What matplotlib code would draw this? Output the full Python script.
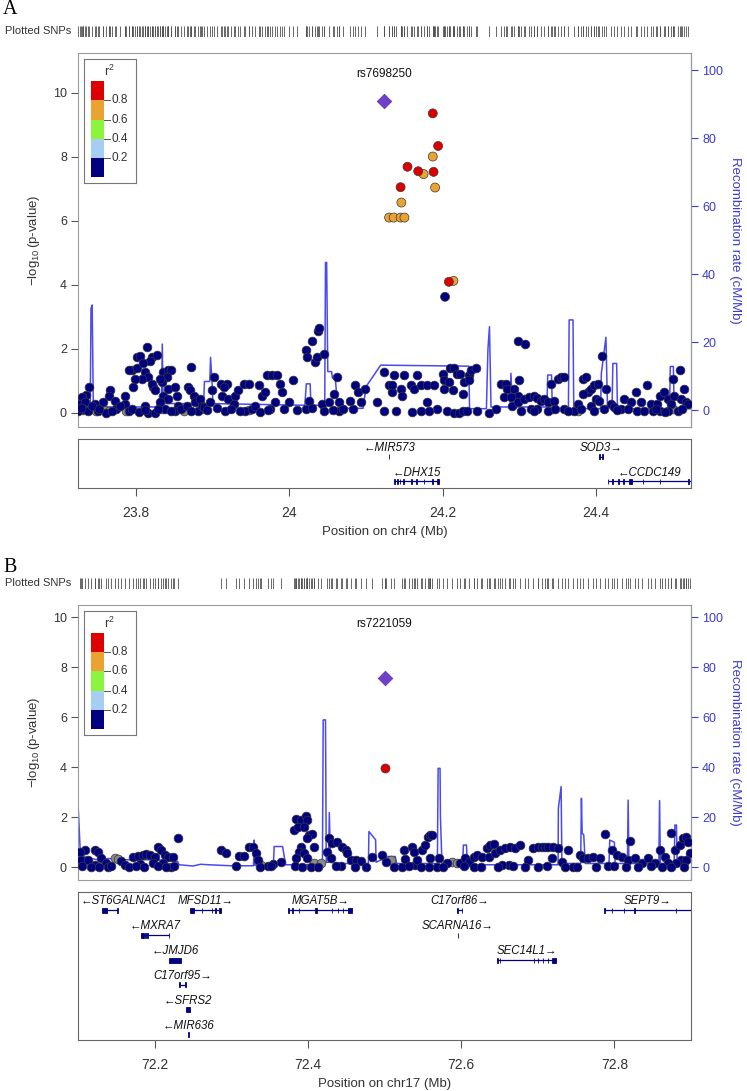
import numpy as np
import matplotlib
matplotlib.use("Agg")
import matplotlib.pyplot as plt
from matplotlib.patches import Rectangle

plt.rcParams['font.family'] = ['Liberation Sans Narrow', 'Liberation Sans', 'DejaVu Sans']
plt.rcParams['mathtext.fontset'] = 'custom'
plt.rcParams['mathtext.rm'] = 'Liberation Sans'
plt.rcParams['mathtext.it'] = 'Liberation Sans:italic'

# ---------------- DATA : panel A (chr4) ----------------
leadA_name = 'rs7698250'
leadA_pos = 24.124
leadA_logp = 9.75
hiA_pos = [24.130, 24.136, 24.145, 24.150, 24.146, 24.190, 24.175, 24.187,
           24.214, 24.203, 24.145, 24.154, 24.168, 24.188, 24.194, 24.187, 24.208]
hiA_logp = [6.10, 6.10, 6.10, 6.10, 6.57, 7.04, 7.46, 8.01,
            4.12, 3.62, 7.05, 7.69, 7.55, 7.53, 8.34, 9.36, 4.09]
hiA_r2 = [0.7, 0.7, 0.7, 0.7, 0.7, 0.7, 0.7, 0.7,
          0.7, 0.1, 0.9, 0.9, 0.9, 0.9, 0.9, 0.9, 0.9]

bgA_pos = [23.738, 23.735, 23.729, 23.727, 23.733, 23.731, 23.737, 23.724, 23.746, 23.750,
           23.757, 23.761, 23.766, 23.764, 23.772, 23.774, 23.785, 23.785, 23.790, 23.796,
           23.794, 23.801, 23.790, 23.801, 23.805, 23.814, 23.820, 23.818, 23.827, 23.809,
           23.811, 23.816, 23.807, 23.798, 23.822, 23.820, 23.825, 23.811, 23.816, 23.825,
           23.835, 23.842, 23.846, 23.840, 23.833, 23.831, 23.842, 23.851, 23.835, 23.842,
           23.853, 23.855, 23.851, 23.838, 23.831, 23.868, 23.870, 23.872, 23.875, 23.877,
           23.883, 23.881, 23.886, 23.888, 23.899, 23.901, 23.896, 23.910, 23.918, 23.912,
           23.914, 23.920, 23.929, 23.933, 23.927, 23.940, 23.947, 23.942, 23.951, 23.960,
           23.964, 23.968, 23.971, 23.977, 23.984, 23.988, 23.990, 23.981, 23.975, 23.999,
           24.005, 24.021, 24.023, 24.030, 24.037, 24.039, 24.033, 24.036, 24.045, 24.025,
           24.021, 24.042, 24.045, 24.051, 24.058, 24.062, 24.064, 24.064, 24.079, 24.086,
           24.090, 24.093, 24.099, 24.114, 24.123, 24.123, 24.130, 24.134,
           24.137, 24.149, 24.166, 24.134, 24.145, 24.147, 24.158, 24.162, 24.171, 24.180,
           24.189, 24.180, 24.193, 24.200, 24.202, 24.202, 24.210, 24.215, 24.219, 24.223,
           24.208, 24.213, 24.226, 24.228, 24.234, 24.237, 24.243, 24.234, 24.206, 24.215,
           24.221, 24.226, 24.232, 24.260, 24.298, 24.308, 24.300, 24.276, 24.282, 24.284,
           24.293, 24.298, 24.280, 24.289, 24.291, 24.298, 24.306, 24.313, 24.319, 24.323,
           24.328, 24.332, 24.337, 24.315, 24.323, 24.337, 24.345, 24.341, 24.350, 24.354,
           24.358, 24.358, 24.371, 24.376, 24.383, 24.387, 24.389, 24.383, 24.393, 24.398,
           24.402, 24.400, 24.404, 24.393, 24.398, 24.408, 24.413, 24.420, 24.424, 24.433,
           24.437, 24.446, 24.452, 24.454, 24.459, 24.467, 24.472, 24.474, 24.480, 24.483,
           24.483, 24.489, 24.494, 24.498, 24.500, 24.502, 24.509, 24.511, 24.515, 24.517,
           24.520, 24.507, 24.494,
           23.728, 23.742, 23.752, 23.769, 23.779, 23.795, 23.803, 23.812, 23.829, 23.846,
           23.859, 23.866, 23.872, 23.892, 23.905, 23.916, 23.924, 23.936, 23.955, 23.962,
           23.972, 23.993, 24.010, 24.029, 24.057, 24.070, 24.083, 24.139, 24.160, 24.171,
           24.182, 24.245, 24.270, 24.302, 24.319, 24.347, 24.364, 24.380, 24.410, 24.428,
           24.442, 24.463, 24.478, 24.490, 24.512]
bgA_logp = [0.80, 0.55, 0.48, 0.27, 0.32, 0.11, 0.05, 0.05, 0.27, 0.05,
            0.32, 0.00, 0.69, 0.53, 0.37, 0.11, 0.53, 0.27, 0.05, 0.80,
            1.32, 1.38, 1.32, 1.75, 1.78, 2.06, 1.75, 1.61, 1.80, 1.54,
            1.27, 1.11, 1.06, 1.06, 0.80, 0.90, 0.69, 0.21, 0.00, 0.00,
            1.27, 1.32, 1.32, 1.11, 0.95, 1.06, 0.74, 0.80, 0.53, 0.42,
            0.53, 0.21, 0.05, 0.11, 0.32, 0.80, 0.69, 1.43, 0.53, 0.32,
            0.42, 0.05, 0.21, 0.16, 0.69, 1.11, 0.32, 0.90, 0.90, 0.53,
            0.80, 0.42, 0.53, 0.69, 0.27, 0.90, 0.90, 0.05, 0.11, 0.85,
            0.53, 0.64, 1.16, 1.16, 1.16, 0.90, 0.64, 0.32, 0.11, 0.32,
            1.01, 1.96, 1.75, 2.24, 2.54, 2.63, 1.59, 1.75, 1.82, 0.37,
            0.11, 0.27, 0.05, 0.32, 0.58, 1.11, 0.32, 0.05, 0.37, 0.87,
            0.64, 0.32, 0.74, 0.32, 0.05, 1.27, 0.85, 0.64,
            1.16, 1.16, 1.16, 0.85, 0.74, 0.53, 0.85, 0.74, 0.85, 0.85,
            0.85, 0.34, 0.11, 1.22, 1.01, 0.74, 1.38, 1.38, 1.22, 1.22,
            0.97, 0.69, 0.58, 0.95, 1.16, 1.32, 1.40, 1.01, 0.05, 0.00,
            0.00, 0.05, 0.05, 0.00, 2.25, 2.15, 1.03, 0.90, 0.90, 0.74,
            0.74, 0.53, 0.48, 0.48, 0.19, 0.32, 0.42, 0.48, 0.53, 0.45,
            0.37, 0.42, 0.32, 0.11, 0.11, 0.05, 0.37, 0.88, 1.06, 1.11,
            1.11, 0.11, 0.05, 0.27, 1.06, 1.11, 0.64, 0.58, 0.74, 0.85,
            0.88, 0.42, 0.37, 0.21, 0.05, 1.77, 0.74, 0.27, 0.16, 0.11,
            0.42, 0.32, 0.64, 0.05, 0.32, 0.85, 0.27, 0.05, 0.27, 0.53,
            0.05, 0.64, 0.42, 0.27, 1.06, 0.53, 1.32, 0.42, 0.74, 0.32,
            0.27, 0.05, 0.05,
            0.15, 0.20, 0.12, 0.05, 0.20, 0.10, 0.02, 0.08, 0.12, 0.05,
            0.12, 0.20, 0.05, 0.07, 0.15, 0.05, 0.12, 0.05, 0.20, 0.03,
            0.08, 0.10, 0.08, 0.15, 0.08, 0.10, 0.12, 0.05, 0.02, 0.05,
            0.04, 0.05, 0.10, 0.05, 0.05, 0.10, 0.05, 0.10, 0.12, 0.08,
            0.10, 0.05, 0.10, 0.02, 0.10]
grayA_pos = [23.731, 23.748, 23.757, 23.765, 23.787, 23.834, 23.862, 23.885,
             23.947, 24.342, 24.377, 24.500]
grayA_logp = [0.08, 0.06, 0.10, 0.04, 0.06, 0.10, 0.04, 0.10, 0.08, 0.12, 0.06, 0.10]

recA_pos = [23.724, 23.740, 23.741, 23.7425, 23.744, 23.832, 23.833, 23.834, 23.835, 23.837,
            23.888, 23.889, 23.896, 23.897, 23.899, 23.900, 24.020, 24.022, 24.027, 24.028,
            24.046, 24.047, 24.0485, 24.050, 24.055, 24.056, 24.060, 24.062, 24.075, 24.096,
            24.100, 24.119, 24.232, 24.234, 24.235, 24.257, 24.259, 24.261, 24.263, 24.288,
            24.289, 24.291, 24.336, 24.337, 24.342, 24.343, 24.364, 24.365, 24.370, 24.371,
            24.406, 24.407, 24.413, 24.415, 24.421, 24.422, 24.427, 24.428, 24.496, 24.497,
            24.501, 24.502, 24.524]
recA_rate = [1.5, 1.5, 30.0, 31.0, 1.0, 1.0, 3.0, 19.5, 3.0, 2.0,
             2.0, 8.5, 8.5, 15.6, 8.0, 2.0, 1.5, 7.8, 7.8, 1.5,
             1.5, 43.5, 43.5, 11.4, 11.4, 9.5, 9.0, 3.0, 0.6, 0.6,
             7.0, 13.3, 13.0, 13.0, 0.5, 0.5, 18.0, 24.6, 1.0, 1.0,
             10.9, 1.0, 1.0, 10.4, 10.4, 0.5, 0.5, 26.6, 26.6, 0.5,
             0.5, 10.9, 21.5, 1.0, 1.0, 13.8, 13.8, 0.5, 0.5, 12.9,
             12.9, 0.5, 0.5]

geneA_names = ['MIR573', 'DHX15', 'SOD3', 'CCDC149']
geneA_start = [24.1298, 24.1369, 24.4040, 24.4158]
geneA_end = [24.1302, 24.1946, 24.4090, 24.5400]
geneA_strand = ['-', '-', '+', '-']
geneA_row = [0, 1, 0, 1]
geneA_exons = [
    [(24.1299, 24.1301)],
    [(24.1366, 24.1373), (24.1404, 24.1410), (24.1442, 24.1448), (24.1485, 24.1492),
     (24.1592, 24.1598), (24.1657, 24.1663), (24.1754, 24.1760), (24.1862, 24.1868),
     (24.1927, 24.1933), (24.1942, 24.1948)],
    [(24.4040, 24.4048), (24.4082, 24.4090)],
    [(24.4155, 24.4161), (24.4210, 24.4216), (24.4288, 24.4296), (24.4353, 24.4361),
     (24.4425, 24.4470), (24.4613, 24.4619), (24.4830, 24.4836), (24.5205, 24.5211)],
]
xlimA = (23.724, 24.524)
ticksA = [23.8, 24.0, 24.2, 24.4]
tickA_labels = ['23.8', '24', '24.2', '24.4']
xlabelA = 'Position on chr4 (Mb)'

# ---------------- DATA : panel B (chr17) ----------------
leadB_name = 'rs7221059'
leadB_pos = 72.500
leadB_logp = 7.56
hiB_pos = [72.5005]
hiB_logp = [3.99]
hiB_r2 = [0.9]

bgB_pos = [72.1097, 72.1023, 72.1218, 72.1262, 72.1305, 72.1370, 72.1392, 72.1045, 72.1132, 72.1218,
           72.1565, 72.1609, 72.1717, 72.1782, 72.1847, 72.1891, 72.1934, 72.1999, 72.2043, 72.2086,
           72.2129, 72.2173, 72.2238, 72.1804, 72.1977, 72.2108, 72.2216, 72.2303, 72.2867, 72.2932,
           72.3062, 72.3105, 72.3170, 72.3235, 72.3279, 72.3322, 72.3344, 72.3474, 72.3539, 72.3648,
           72.3821, 72.3843, 72.3908, 72.3973, 72.3995, 72.3865, 72.3951, 72.4016, 72.4060, 72.3995,
           72.4081, 72.3908, 72.3886, 72.3951, 72.3843, 72.3995, 72.4255, 72.4277, 72.4320, 72.4385,
           72.4450, 72.4493, 72.4515, 72.4298, 72.4428, 72.4559, 72.4624, 72.4689, 72.4841, 72.4971,
           72.5014,
           72.5231, 72.5252, 72.5274, 72.5361, 72.5382, 72.5404, 72.5426, 72.5491, 72.5534, 72.5569,
           72.5599, 72.5621, 72.5599, 72.5708, 72.5578, 72.5686, 72.5816, 72.5990, 72.6055, 72.6098,
           72.6163, 72.6207, 72.6272, 72.6337, 72.6380, 72.6423, 72.6358, 72.6445, 72.6510, 72.6575,
           72.6640, 72.6705, 72.6771, 72.6619, 72.6532, 72.6879, 72.6944, 72.7009, 72.7052, 72.7096,
           72.7139, 72.7204, 72.7269, 72.7400, 72.7183, 72.7313, 72.7465, 72.7551, 72.7595, 72.7660,
           72.7725, 72.7812, 72.7877, 72.7920, 72.7963, 72.8028, 72.8094, 72.8180, 72.8202, 72.8267,
           72.8354, 72.8441, 72.8527, 72.8592, 72.8658, 72.8701, 72.8736, 72.8788, 72.8853, 72.8896,
           72.8940, 72.8961, 72.8983, 72.8875, 72.8809, 72.8940,
           72.105, 72.117, 72.128, 72.143, 72.166, 72.176, 72.186, 72.204, 72.215, 72.225,
           72.337, 72.352, 72.383, 72.392, 72.404, 72.413, 72.437, 72.462, 72.476, 72.513,
           72.532, 72.548, 72.576, 72.604, 72.617, 72.626, 72.648, 72.668, 72.683, 72.700,
           72.712, 72.735, 72.751, 72.776, 72.800, 72.815, 72.831, 72.848, 72.862, 72.874,
           72.891]
bgB_logp = [0.69, 0.63, 0.69, 0.63, 0.36, 0.16, 0.03, 0.29, 0.29, 0.09,
            0.27, 0.09, 0.43, 0.45, 0.49, 0.53, 0.49, 0.43, 0.83, 0.69,
            0.49, 0.40, 0.43, 0.13, 0.16, 0.16, 0.03, 1.19, 0.69, 0.56,
            0.05, 0.45, 0.45, 0.83, 0.83, 0.56, 0.29, 0.05, 0.13, 0.23,
            1.49, 1.93, 1.89, 2.05, 1.89, 1.63, 1.60, 1.29, 1.33, 1.16,
            0.83, 0.83, 0.63, 0.56, 0.36, 0.36, 0.63, 1.16, 0.96, 1.03,
            0.83, 0.69, 0.56, 0.36, 0.05, 0.29, 0.29, 0.27, 0.40, 0.49,
            0.23,
            0.03, 0.69, 0.32, 0.83, 0.63, 0.09, 0.29, 0.69, 0.89, 1.23,
            1.29, 1.29, 0.36, 0.36, 0.03, 0.03, 0.16, 0.16, 0.36, 0.23,
            0.43, 0.49, 0.43, 0.76, 0.89, 0.93, 0.43, 0.56, 0.69, 0.76,
            0.83, 0.76, 0.89, 0.09, 0.09, 0.29, 0.76, 0.83, 0.83, 0.83,
            0.83, 0.83, 0.76, 0.69, 0.36, 0.23, 0.03, 0.49, 0.36, 0.36,
            0.43, 0.36, 1.33, 0.05, 0.69, 0.49, 0.43, 0.29, 1.05, 0.36,
            0.16, 0.36, 0.16, 0.69, 0.43, 0.16, 1.36, 0.69, 0.89, 1.16,
            1.23, 1.03, 0.56, 0.29, 0.16, 0.29,
            0.05, 0.02, 0.00, 0.05, 0.02, 0.05, 0.00, 0.05, 0.02, 0.05,
            0.00, 0.05, 0.05, 0.00, 0.02, 0.00, 0.05, 0.00, 0.02, 0.00,
            0.05, 0.00, 0.02, 0.05, 0.00, 0.03, 0.00, 0.05, 0.02, 0.00,
            0.05, 0.00, 0.03, 0.00, 0.05, 0.00, 0.02, 0.05, 0.00, 0.03,
            0.00]
grayB_pos = [72.1479, 72.1522, 72.3387, 72.4081, 72.4168, 72.5079, 72.5881, 72.5946]
grayB_logp = [0.36, 0.32, 0.09, 0.16, 0.16, 0.29, 0.23, 0.19]

recB_pos = [72.100, 72.103, 72.110, 72.125, 72.140, 72.160, 72.200, 72.225, 72.230, 72.232,
            72.250, 72.260, 72.270, 72.300, 72.329, 72.330, 72.331, 72.355, 72.356, 72.367,
            72.371, 72.419, 72.420, 72.423, 72.424, 72.427, 72.428, 72.4295, 72.440, 72.479,
            72.4797, 72.4884, 72.489, 72.505, 72.514, 72.516, 72.569, 72.570, 72.5725, 72.573,
            72.575, 72.602, 72.603, 72.607, 72.608, 72.7265, 72.7269, 72.7305, 72.7315, 72.756,
            72.757, 72.758, 72.760, 72.762, 72.793, 72.794, 72.800, 72.801, 72.817, 72.818,
            72.819, 72.858, 72.859, 72.860, 72.878, 72.879, 72.881, 72.882, 72.900]
recB_rate = [25.6, 6.0, 4.0, 3.0, 3.5, 3.0, 3.0, 2.5, 2.3, 1.0,
             0.5, 1.2, 1.0, 0.6, 0.6, 10.9, 0.8, 0.8, 8.3, 8.3,
             1.0, 1.0, 59.0, 59.0, 2.0, 2.0, 21.9, 2.0, 1.5, 1.5,
             14.3, 11.0, 2.0, 4.3, 4.3, 1.5, 1.5, 39.6, 39.6, 20.0,
             1.5, 1.5, 8.9, 8.9, 1.0, 1.0, 23.6, 32.3, 1.5, 1.5,
             27.6, 13.6, 13.0, 1.5, 1.5, 10.9, 10.0, 1.5, 1.5, 26.9,
             1.5, 1.5, 26.7, 1.5, 1.5, 16.9, 16.9, 2.0, 2.0]

geneB_names = ['ST6GALNAC1', 'MFSD11', 'MGAT5B', 'C17orf86', 'SEPT9', 'MXRA7', 'SCARNA16',
               'JMJD6', 'SEC14L1', 'C17orf95', 'SFRS2', 'MIR636']
geneB_start = [72.1318, 72.2457, 72.3747, 72.5952, 72.7872, 72.1828, 72.5958,
               72.2188, 72.6473, 72.2322, 72.2403, 72.2440]
geneB_end = [72.1517, 72.2861, 72.4581, 72.6016, 72.9300, 72.2188, 72.5962,
             72.2349, 72.7242, 72.2403, 72.2458, 72.2442]
geneB_strand = ['-', '+', '+', '+', '+', '-', '+', '-', '+', '+', '-', '-']
geneB_row = [0, 0, 0, 0, 0, 1, 1, 2, 2, 3, 4, 5]
geneB_exons = [
    [(72.1318, 72.1381), (72.1513, 72.1518)],
    [(72.2457, 72.2511), (72.2616, 72.2621), (72.2750, 72.2755), (72.2793, 72.2798), (72.2834, 72.2861)],
    [(72.3745, 72.3750), (72.3798, 72.3803), (72.3879, 72.3884), (72.4097, 72.4124), (72.4309, 72.4314),
     (72.4389, 72.4394), (72.4459, 72.4464), (72.4528, 72.4581)],
    [(72.5952, 72.5957), (72.6011, 72.6016)],
    [(72.7870, 72.7875), (72.7966, 72.7971), (72.8127, 72.8132), (72.8262, 72.8267), (72.8800, 72.8805)],
    [(72.1828, 72.1842), (72.1850, 72.1862), (72.1872, 72.1890), (72.1900, 72.1912), (72.2186, 72.2190)],
    [(72.5958, 72.5962)],
    [(72.2188, 72.2349)],
    [(72.6471, 72.6476), (72.6504, 72.6509), (72.6945, 72.6950), (72.6998, 72.7004), (72.7063, 72.7068),
     (72.7133, 72.7138), (72.7189, 72.7242)],
    [(72.2322, 72.2330), (72.2395, 72.2403)],
    [(72.2403, 72.2458)],
    [(72.2440, 72.2442)],
]
xlimB = (72.1, 72.9)
ticksB = [72.2, 72.4, 72.6, 72.8]
tickB_labels = ['72.2', '72.4', '72.6', '72.8']
xlabelB = 'Position on chr17 (Mb)'

r2_breaks = [0.0, 0.2, 0.4, 0.6, 0.8, 1.0]
r2_colors = ['#000080', '#a6cdf2', '#8af53c', '#eaa232', '#dd0000']
r2_labels = ['0.2', '0.4', '0.6', '0.8']
rec_ticks = [0, 20, 40, 60, 80, 100]
logp_ticks = [0, 2, 4, 6, 8, 10]

# ---------------- STYLE ----------------
W, H = 747, 1091
NAVY = '#000080'
GRAYPT = '#8a8a8a'
EDGE = '#3a3a3a'
REC = '#4a4af0'
RECAX = '#3c3ccc'
FRAME = '#9a9a9a'
TXT = '#333333'

fig = plt.figure(figsize=(W / 100, H / 100), dpi=100)


def add_px(left, top, right, bottom, **kw):
    return fig.add_axes([left / W, 1 - bottom / H, (right - left) / W, (bottom - top) / H], **kw)


def r2_color(v):
    if v is None or np.isnan(v):
        return GRAYPT
    idx = np.searchsorted(r2_breaks, v, side='right') - 1
    idx = int(min(max(idx, 0), len(r2_colors) - 1))
    return r2_colors[idx]


def draw_panel(letter, letter_y, strip_y, main_box, gene_box, ylim, rlim, xlim,
               lead_name, lead_pos, lead_logp, hi_pos, hi_logp, hi_r2,
               bg_pos, bg_logp, gray_pos, gray_logp, rec_pos, rec_rate,
               gnames, gstart, gend, gstrand, grow, gexons, nrows_box,
               ticks, tick_labels, xlabel, label_y):
    L, R = 78, 691
    fig.text(3 / W, 1 - letter_y / H, letter, fontsize=14.5, family='Liberation Serif',
             va='center', ha='left')
    fig.text(5 / W, 1 - (strip_y + 5.5) / H, 'Plotted SNPs', fontsize=8, va='center',
             ha='left', color=TXT)
    sax = add_px(L, strip_y, R, strip_y + 11)
    all_pos = list(bg_pos) + list(gray_pos) + list(hi_pos) + [lead_pos]
    sax.vlines(all_pos, 0, 1, color='#505050', lw=0.6)
    sax.set_xlim(*xlim)
    sax.set_ylim(0, 1)
    sax.axis('off')

    ax = add_px(L, main_box[0], R, main_box[1])
    ax2 = ax.twinx()
    ax.set_zorder(ax2.get_zorder() + 1)
    ax.patch.set_visible(False)
    ax2.plot(rec_pos, rec_rate, color=REC, lw=1.1, zorder=1)
    ax2.set_ylim(*rlim)
    ax2.set_yticks(rec_ticks)
    ax2.tick_params(axis='y', colors=RECAX, labelsize=9, length=5, width=0.8, pad=3)
    ax2.set_ylabel('Recombination rate (cM/Mb)', color=RECAX, fontsize=9.5, rotation=270,
                   labelpad=13)
    for s in ax2.spines.values():
        s.set_visible(False)
    ax2.spines['right'].set_visible(True)
    ax2.spines['right'].set_color(RECAX)
    ax2.spines['right'].set_linewidth(0.8)

    ax.scatter(gray_pos, gray_logp, s=40, c=GRAYPT, edgecolors=EDGE, linewidths=0.5, zorder=3)
    ax.scatter(bg_pos, bg_logp, s=40, c=NAVY, edgecolors=EDGE, linewidths=0.5, zorder=4)
    cols = [r2_color(v) for v in hi_r2]
    ax.scatter(hi_pos, hi_logp, s=42, c=cols, edgecolors=EDGE, linewidths=0.5, zorder=5)
    ax.scatter([lead_pos], [lead_logp], s=55, marker='D', c='#7140c8', edgecolors='#6030b0',
               linewidths=0.5, zorder=6)
    ax.text(lead_pos, label_y, lead_name, ha='center', va='center', fontsize=8.5, color='#111111',
            zorder=7)
    ax.set_xlim(*xlim)
    ax.set_ylim(*ylim)
    ax.set_yticks(logp_ticks)
    ax.tick_params(axis='y', colors='#555555', labelcolor=TXT, labelsize=9, length=5,
                   width=0.8, pad=3)
    ax.tick_params(axis='x', bottom=False, labelbottom=False)
    ax.set_ylabel(r'$-\log_{10}$(p-value)', fontsize=9.5, color=TXT, labelpad=8)
    for s in ax.spines.values():
        s.set_color(FRAME)
        s.set_linewidth(0.8)

    lt = main_box[0] + 6
    lax = add_px(84, lt, 136, lt + 124)
    lax.set_xlim(0, 1)
    lax.set_ylim(0, 1)
    lax.set_xticks([])
    lax.set_yticks([])
    for s in lax.spines.values():
        s.set_color('#777777')
        s.set_linewidth(0.8)
    y0, y1 = 0.048, 0.823
    seg = (y1 - y0) / len(r2_colors)
    for i, c in enumerate(r2_colors):
        lax.add_patch(Rectangle((0.135, y0 + i * seg), 0.25, seg, facecolor=c, edgecolor='none'))
    for i, lab in enumerate(r2_labels):
        yy = y0 + (i + 1) * seg
        lax.plot([0.385, 0.5], [yy, yy], color='#555555', lw=0.7)
        lax.text(0.53, yy, lab, fontsize=8.5, va='center', ha='left', color=TXT)
    lax.text(0.48, 0.90, r'r$^2$', fontsize=9, va='center', ha='center', color=TXT)

    gax = add_px(L, gene_box[0], R, gene_box[1])
    gax.set_xlim(*xlim)
    gax.set_ylim(nrows_box, 0)
    gax.set_yticks([])
    for s in gax.spines.values():
        s.set_color('#666666')
        s.set_linewidth(0.8)
    texts = []
    for name, st, en, strand, row, ex in zip(gnames, gstart, gend, gstrand, grow, gexons):
        gy = row + 0.72
        gax.plot([st, en], [gy, gy], color=NAVY, lw=0.9, solid_capstyle='butt')
        for (a, b) in ex:
            gax.add_patch(Rectangle((a, gy - 0.1), max(b - a, 0.0003), 0.2,
                                    facecolor=NAVY, edgecolor=NAVY, lw=0.6))
        label = ('\u2190' + name) if strand == '-' else (name + '\u2192')
        mid = (max(st, xlim[0]) + min(en, xlim[1])) / 2
        t = gax.text(mid, row + 0.36, label, ha='center', va='center', fontsize=8.3,
                     style='italic', color='#111111')
        texts.append(t)
    gax.set_xticks(ticks)
    gax.set_xticklabels(tick_labels)
    gax.tick_params(axis='x', colors='#555555', labelcolor=TXT, labelsize=10, length=6,
                    width=0.8, pad=7)
    gax.set_xlabel(xlabel, fontsize=9.5, color=TXT, labelpad=4)
    return gax, texts


gA, tA = draw_panel('A', 10, 26, (53.3, 426.7), (439.3, 488.3), (-0.444, 11.24), (-4.8, 105.0), xlimA,
                    leadA_name, leadA_pos, leadA_logp, hiA_pos, hiA_logp, hiA_r2,
                    bgA_pos, bgA_logp, grayA_pos, grayA_logp, recA_pos, recA_rate,
                    geneA_names, geneA_start, geneA_end, geneA_strand, geneA_row, geneA_exons,
                    2.0, ticksA, tickA_labels, xlabelA, 10.6)
gB, tB = draw_panel('B', 568, 578, (605.0, 880.0), (892.3, 1040.0), (-0.51, 10.5), (-5.1, 105.0), xlimB,
                    leadB_name, leadB_pos, leadB_logp, hiB_pos, hiB_logp, hiB_r2,
                    bgB_pos, bgB_logp, grayB_pos, grayB_logp, recB_pos, recB_rate,
                    geneB_names, geneB_start, geneB_end, geneB_strand, geneB_row, geneB_exons,
                    5.93, ticksB, tickB_labels, xlabelB, 9.75)

fig.canvas.draw()
r = fig.canvas.get_renderer()
for gax, texts in ((gA, tA), (gB, tB)):
    abox = gax.get_window_extent(r)
    inv = gax.transData.inverted()
    for t in texts:
        bb = t.get_window_extent(r)
        shift = 0
        if bb.x1 > abox.x1 - 3:
            shift = (abox.x1 - 3) - bb.x1
        elif bb.x0 < abox.x0 + 3:
            shift = (abox.x0 + 3) - bb.x0
        if shift:
            x, y = t.get_position()
            disp = gax.transData.transform((x, y))
            nx = inv.transform((disp[0] + shift, disp[1]))[0]
            t.set_x(nx)

fig.savefig('out.png', dpi=100)
